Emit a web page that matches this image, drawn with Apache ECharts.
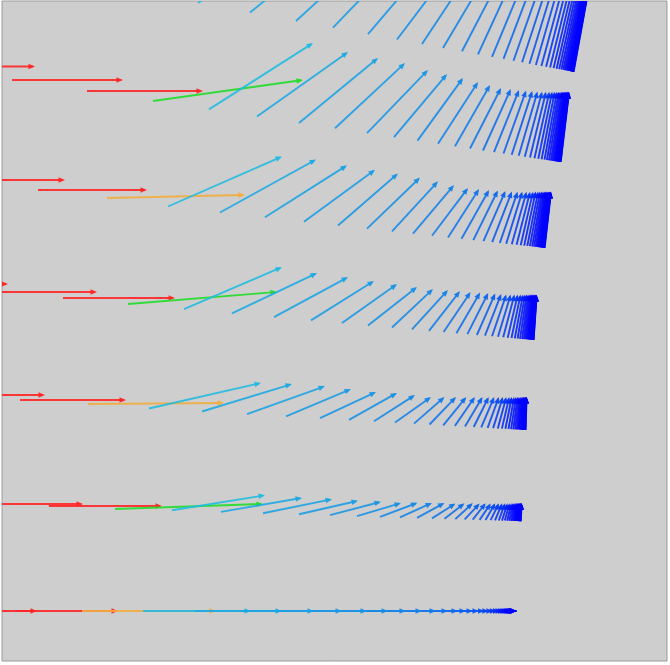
<!DOCTYPE html>
<html>
<head>
<meta charset="UTF-8">
<title>vector field</title>
<script src="https://cdn.jsdelivr.net/npm/echarts@6/dist/echarts.min.js"></script>
<style>
  html, body { margin: 0; padding: 0; background: #ffffff; }
  #main { width: 670px; height: 665px; }
</style>
</head>
<body>
<div id="main"></div>
<script type="text/javascript">
// each arrow: [x, y, u, v]  (start point and vector, in axis units)
var rowA = [
  [-70, 611, 107, 0], [15, 611, 103, 0], [82, 611, 134, 0],
  [143, 611, 108, 0], [195, 611, 87, 0], [240, 611, 74, 0], [279, 611, 63, 0], [312, 611, 55, 0],
  [341, 611, 47, 0], [366, 611, 40, 0], [387, 611, 35, 0], [405, 611, 31, 0], [421, 611, 27, 0],
  [434, 611, 24, 0], [446, 611, 20, 0], [456, 611, 17, 0], [464, 611, 15, 0], [472, 611, 12.5, 0],
  [478, 611, 10.8, 0], [483.6, 611, 9.3, 0], [488.4, 611, 8, 0], [492.6, 611, 6.9, 0], [496.1, 611, 5.9, 0],
  [499.2, 611, 5.1, 0], [501.8, 611, 4.4, 0], [504.1, 611, 3.8, 0], [506, 611, 3.2, 0], [507.7, 611, 2.8, 0],
  [509.1, 611, 2.4, 0], [510.4, 611, 2.1, 0], [511.5, 611, 1.8, 0], [512.4, 611, 1.5, 0], [513.2, 611, 1.3, 0],
  [513.8, 611, 1.1, 0], [514.4, 611, 1, 0], [514.9, 611, 0.8, 0], [515.4, 611, 0.7, 0], [515.7, 611, 0.6, 0],
  [516.1, 611, 0.5, 0], [516.3, 611, 0.4, 0], [516.6, 611, 0.4, 0]
];
var rowB = [
  [-118, 501, 107, 0], [-28, 504, 111, 0], [49, 506, 113, 0], [115, 509, 148, -5],
  [172, 510.3, 93, -15], [221, 511.9, 81, -14], [263, 513.2, 69, -14], [299, 514.3, 59, -13.5],
  [330, 515.2, 51, -13.5], [357, 516.1, 44, -13], [380, 516.8, 37.5, -14], [400, 517.4, 32, -14.5],
  [417, 517.9, 27.5, -15], [432, 518.4, 23.5, -15], [444.5, 518.8, 20, -15.5], [455.3, 519.1, 17.5, -16],
  [464.7, 519.4, 15, -16], [472.7, 519.7, 13, -16.5], [479.6, 519.9, 11.2, -16.5], [485.5, 520.1, 9.7, -16.8],
  [490.6, 520.2, 8.4, -17], [495, 520.3, 7.3, -17], [498.8, 520.5, 6.3, -17.2], [502, 520.6, 5.5, -17.3],
  [504.8, 520.6, 4.8, -17.4], [507.2, 520.7, 4.2, -17.5], [509.3, 520.8, 3.6, -17.6], [511.1, 520.8, 3.1, -17.7],
  [512.6, 520.9, 2.7, -17.8], [513.9, 520.9, 2.4, -17.8], [515, 521, 2.1, -17.9], [516, 521, 1.8, -17.9],
  [516.9, 521, 1.6, -18], [517.6, 521, 1.4, -18], [518.2, 521.1, 1.3, -18], [518.7, 521.1, 1.2, -18],
  [519.2, 521.1, 1.1, -18], [519.6, 521.1, 1, -18], [519.9, 521.1, 1, -18], [520.2, 521.1, 1, -18],
  [520.5, 521.1, 1, -18], [520.7, 521.2, 1, -18]
];
var rowC = [
  [-63, 395, 108, 0], [20, 400, 106, 0], [88, 404, 136, -1],
  [149, 408.5, 112, -25.5], [202, 411.5, 90, -27.5], [247, 414.1, 78, -28], [286, 416.3, 65, -27.3],
  [320, 418.2, 56, -26.2], [349, 419.9, 48, -27], [374, 421.3, 41, -26.3], [395, 422.5, 36, -25.5],
  [414, 423.6, 30.5, -26.6], [429.5, 424.5, 26.5, -27.5], [443.2, 425.3, 23, -28.3], [454.9, 425.9, 20, -29],
  [465, 426.5, 17.5, -29.5], [473.7, 427, 15, -30], [481.2, 427.4, 13, -30.4], [487.6, 427.8, 11.3, -30.8],
  [493.1, 428.1, 9.8, -31.1], [497.8, 428.4, 8.5, -31.4], [501.9, 428.6, 7.4, -31.6], [505.4, 428.8, 6.4, -31.8],
  [508.5, 429, 5.6, -32], [511.1, 429.1, 4.9, -32.1], [513.3, 429.3, 4.3, -32.3], [515.2, 429.4, 3.8, -32.4],
  [516.9, 429.5, 3.3, -32.5], [518.3, 429.5, 2.9, -32.5], [519.5, 429.6, 2.6, -32.6], [520.6, 429.7, 2.3, -32.7],
  [521.5, 429.7, 2.1, -32.7], [522.2, 429.8, 1.9, -32.8], [522.9, 429.8, 1.7, -32.8], [523.5, 429.8, 1.5, -32.8],
  [524, 429.9, 1.4, -32.9], [524.4, 429.9, 1.3, -32.9], [524.8, 429.9, 1.2, -32.9], [525.1, 429.9, 1.1, -33],
  [525.3, 430, 1.1, -33], [525.6, 430, 1, -33]
];
var rowD = [
  [-99, 284, 107, 0], [-12, 292, 109, 0], [63, 298, 112, 0], [128, 304, 149, -12],
  [184, 309.2, 98, -42], [232, 313.4, 85, -40.4], [274, 317.1, 74, -40], [311, 320.4, 63, -39.4],
  [342, 323.1, 55, -39], [368, 325.4, 49, -38.4], [392, 327.5, 41, -38.5], [412, 329.3, 36, -39.3],
  [429, 330.8, 31, -39.8], [443.6, 332, 27, -40], [456.4, 333.2, 23.7, -40.7], [467.4, 334.1, 20.8, -41.1],
  [476.9, 335, 18.3, -41.5], [485, 335.7, 16.2, -41.7], [492, 336.3, 14.3, -41.8], [498, 336.8, 12.7, -42.3],
  [503.2, 337.3, 11.3, -42.8], [507.7, 337.7, 10.1, -43.2], [511.5, 338, 9.1, -43.5], [514.8, 338.3, 8.2, -43.8],
  [517.6, 338.5, 7.4, -44], [520, 338.8, 6.7, -44.3], [522.1, 339, 6.1, -44.5], [523.9, 339.1, 5.6, -44.6],
  [525.5, 339.2, 5.2, -44.7], [526.8, 339.3, 4.8, -44.8], [528, 339.4, 4.5, -44.8], [528.9, 339.5, 4.2, -44.9],
  [529.8, 339.6, 4, -44.9], [530.5, 339.6, 3.8, -45], [531.1, 339.7, 3.6, -45], [531.7, 339.7, 3.5, -45],
  [532.1, 339.8, 3.4, -45], [532.5, 339.8, 3.3, -45], [532.9, 339.8, 3.2, -45], [533.2, 339.9, 3.2, -45],
  [533.4, 339.9, 3.1, -45], [533.6, 339.9, 3.1, -45]
];
var rowE = [
  [-44, 180, 109, 0], [38, 190, 109, 0], [107, 198, 138, -3],
  [168, 206.5, 114, -50], [220, 212.5, 96, -53], [265, 217.3, 82, -52], [304, 221.8, 71, -52],
  [338, 225.5, 60, -52], [367, 228.6, 53, -51], [392, 231.3, 46, -50], [413, 233.6, 41, -48.6],
  [432, 235.7, 36, -47.7], [448, 237.4, 31, -48.4], [461.5, 238.8, 27.5, -48.8], [473.3, 240.1, 24.5, -49.6],
  [483.5, 241.2, 21.9, -50.2], [492.2, 242.2, 19.7, -50.7], [499.8, 243, 17.8, -51.3], [506.2, 243.7, 16.1, -52],
  [511.8, 244.3, 14.7, -52.5], [516.6, 244.8, 13.5, -53], [520.7, 245.2, 12.4, -53.5], [524.2, 245.6, 11.5, -54],
  [527.3, 245.9, 10.8, -54.3], [529.9, 246.2, 10.1, -54.6], [532.2, 246.5, 9.6, -54.9], [534.1, 246.7, 9.1, -55.1],
  [535.8, 246.9, 8.7, -55.3], [537.2, 247, 8.4, -55.4], [538.4, 247.1, 8.1, -55.5], [539.5, 247.3, 7.8, -55.6],
  [540.4, 247.4, 7.6, -55.7], [541.2, 247.5, 7.4, -55.7], [541.9, 247.5, 7.2, -55.8], [542.4, 247.6, 7, -55.8],
  [542.9, 247.6, 6.9, -55.9], [543.4, 247.7, 6.8, -55.9], [543.7, 247.7, 6.7, -55.9], [544.1, 247.7, 6.6, -56],
  [544.3, 247.8, 6.5, -56], [544.6, 247.8, 6.4, -56]
];
var rowF = [
  [-78, 66.5, 113, 0], [12, 80, 111, 0], [87, 91, 116, 0], [153, 101, 150, -21],
  [209, 109.4, 104, -66.4], [257, 116.6, 91, -64.6], [299, 122.9, 79, -64.9], [335, 128.3, 70, -65.3],
  [367, 133.1, 61, -63.1], [394, 137.1, 53, -63.1], [417.5, 140.6, 45.5, -62.6], [438, 143.7, 40, -61.7],
  [455, 146.3, 35, -61.3], [470, 148.5, 31, -60.5], [483, 150.5, 27.8, -61.5], [494, 152.1, 25, -62.1],
  [503.5, 153.5, 22.6, -63], [511.7, 154.8, 20.6, -63.8], [518.7, 155.8, 18.8, -64.3], [524.8, 156.7, 17.3, -65],
  [530, 157.5, 16, -65.7], [534.5, 158.2, 14.9, -66.4], [538.3, 158.7, 13.9, -66.9], [541.6, 159.2, 13.1, -67.4],
  [544.5, 159.7, 12.4, -67.9], [546.9, 160, 11.8, -68.2], [549, 160.4, 11.2, -68.6], [550.9, 160.6, 10.8, -68.8],
  [552.4, 160.9, 10.4, -69.1], [553.8, 161.1, 10.1, -69.3], [554.9, 161.2, 9.8, -69.4], [555.9, 161.4, 9.6, -69.6],
  [556.8, 161.5, 9.4, -69.7], [557.5, 161.6, 9.2, -69.7], [558.1, 161.6, 9, -69.8], [558.7, 161.7, 8.9, -69.8],
  [559.1, 161.7, 8.8, -69.9], [559.5, 161.8, 8.7, -69.9], [559.9, 161.8, 8.6, -69.9], [560.2, 161.8, 8.5, -70],
  [560.4, 161.9, 8.4, -70], [560.7, 161.9, 8.4, -70]
];
var rowG = [
  [-15, -36, 110, 0], [67, -21, 110, 0], [136, -8, 140, -4],
  [198, 3, 115, -80], [250, 12.5, 97, -78], [296, 21, 84, -77], [333, 27.7, 73, -76],
  [368, 34.1, 64, -75], [397, 39.5, 56, -74], [422, 44, 49, -74], [443, 47.9, 44, -74],
  [462, 51.3, 39, -75], [478, 54.3, 35, -76], [492, 56.8, 32, -77], [503.5, 58.9, 29.6, -78],
  [513.5, 60.8, 27.6, -78.5], [522.1, 62.3, 25.8, -79], [529.5, 63.7, 24.3, -79.5], [535.9, 64.9, 23, -80],
  [541.4, 65.9, 21.9, -80.5], [546.1, 66.7, 20.9, -81], [550.1, 67.5, 20.1, -81.5], [553.6, 68.1, 19.4, -82],
  [556.6, 68.7, 18.8, -82.4], [559.2, 69.1, 18.3, -82.8], [561.4, 69.5, 17.9, -83.1], [563.3, 69.9, 17.5, -83.4],
  [564.9, 70.2, 17.2, -83.7], [566.3, 70.4, 16.9, -83.9], [567.5, 70.7, 16.7, -84.1], [568.6, 70.9, 16.5, -84.3],
  [569.5, 71, 16.3, -84.4], [570.3, 71.2, 16.2, -84.5], [570.9, 71.3, 16, -84.6], [571.5, 71.4, 15.9, -84.7],
  [572, 71.5, 15.8, -84.8], [572.4, 71.6, 15.7, -84.8], [572.8, 71.6, 15.6, -84.9], [573.1, 71.7, 15.5, -84.9],
  [573.3, 71.7, 15.5, -85], [573.6, 71.8, 15.4, -85]
];

// colour level of each arrow (6 = red ... 0 = deep blue)
var leadOrange = [6, 6, 5];
var leadGreen = [6, 6, 6, 4];
var tailLevels = [3, 2.65, 2.5, 2.38, 2.26, 2.14, 2.02, 1.9, 1.78, 1.66, 1.54, 1.42, 1.3, 1.18, 1.06, 0.94,
  0.82, 0.7, 0.58, 0.47, 0.37, 0.28, 0.2, 0.13, 0.07, 0.02, 0, 0, 0, 0, 0, 0, 0, 0, 0, 0, 0, 0];
var levelColors = ['#0000ff', '#0d52f0', '#1a8ae6', '#22bbe0', '#22dd2a', '#f2ad3e', '#ff2626'];

var rows = [[rowA, leadOrange], [rowB, leadGreen], [rowC, leadOrange], [rowD, leadGreen],
            [rowE, leadOrange], [rowF, leadGreen], [rowG, leadOrange]];
var arrows = [];
for (var r = 0; r < rows.length; r++) {
  var lv = rows[r][1].concat(tailLevels);
  var row = rows[r][0];
  for (var i = 0; i < row.length; i++) {
    arrows.push(row[i].concat([lv[i]]));
  }
}

function renderArrow(params, api) {
  var x = api.value(0), y = api.value(1);
  var p0 = api.coord([x, y]);
  var p1 = api.coord([x + api.value(2), y + api.value(3)]);
  var color = api.visual('color');
  var dx = p1[0] - p0[0], dy = p1[1] - p0[1];
  var len = Math.sqrt(dx * dx + dy * dy) || 1;
  var ux = dx / len, uy = dy / len;
  var hl = 6.5, hw = 2.8;
  var bx = p1[0] - ux * hl, by = p1[1] - uy * hl;
  return {
    type: 'group',
    children: [
      {
        type: 'line',
        shape: { x1: p0[0], y1: p0[1], x2: p1[0] - ux * 2, y2: p1[1] - uy * 2 },
        style: { stroke: color, lineWidth: 1.9, opacity: 0.9 }
      },
      {
        type: 'polygon',
        shape: { points: [[p1[0], p1[1]], [bx - uy * hw, by + ux * hw], [bx + uy * hw, by - ux * hw]] },
        style: { fill: color, opacity: 0.95 }
      }
    ]
  };
}

var myChart = echarts.init(document.getElementById('main'));
var option = {
  animation: false,
  backgroundColor: '#ffffff',
  grid: {
    left: 2, right: 3, top: 1, bottom: 4,
    show: true,
    backgroundColor: '#cecece',
    borderColor: '#9a9a9a',
    borderWidth: 1
  },
  xAxis: {
    type: 'value', min: 2, max: 667,
    axisLine: { show: false }, axisTick: { show: false },
    axisLabel: { show: false }, splitLine: { show: false }
  },
  yAxis: {
    type: 'value', min: 1, max: 661, inverse: true,
    axisLine: { show: false }, axisTick: { show: false },
    axisLabel: { show: false }, splitLine: { show: false }
  },
  visualMap: {
    show: false,
    type: 'continuous',
    dimension: 4,
    min: 0,
    max: 6,
    seriesIndex: 0,
    inRange: { color: levelColors }
  },
  series: [{
    type: 'custom',
    clip: true,
    renderItem: renderArrow,
    encode: { x: 0, y: 1 },
    data: arrows
  }]
};
myChart.setOption(option);
</script>
</body>
</html>
